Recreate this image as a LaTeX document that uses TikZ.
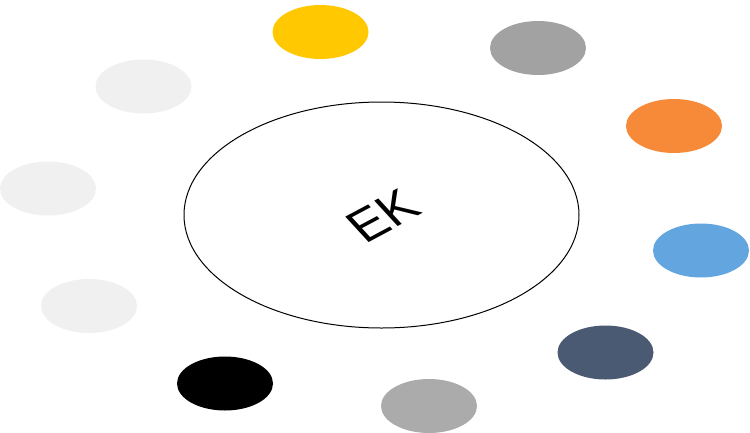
\documentclass[tikz,border=0pt]{standalone}
\usepackage{fontspec}
\setmainfont{Liberation Sans}
\usetikzlibrary{shapes.geometric}
\definecolor{sunyellow}{HTML}{FFC800}
\definecolor{midgray}{HTML}{A2A2A2}
\definecolor{softorange}{HTML}{F68A38}
\definecolor{skyblue}{HTML}{62A5DF}
\definecolor{slateblue}{HTML}{4A5A72}
\definecolor{stonegray}{HTML}{ABABAB}
\definecolor{palegray}{HTML}{F0F0F0}

\begin{document}
\begin{tikzpicture}[x=1pt, y=-1pt,
    petal/.style={ellipse, minimum width=96pt, minimum height=54pt, inner sep=0pt},
    hub/.style={ellipse, draw=black, line width=1pt, minimum width=395pt, minimum height=226pt, inner sep=0pt}]

  \useasboundingbox (0,0) rectangle (750,432);

  % Centre
  \node[hub] (hub) at (381.5, 215) {};
  \node[font=\fontsize{50}{56}\selectfont, cm={0.88,0.47,-0.68,0.74,(0,0)}] (label) at (383, 216) {EK};

  % Ring, clockwise from the top
  \node[petal, fill=sunyellow] (p1) at (320.5, 32) {};
  \node[petal, fill=midgray] (p2) at (538, 48) {};
  \node[petal, fill=softorange] (p3) at (674, 126) {};
  \node[petal, fill=skyblue] (p4) at (701, 250.5) {};
  \node[petal, fill=slateblue] (p5) at (605.5, 352.5) {};
  \node[petal, fill=stonegray] (p6) at (429, 406) {};
  \node[petal, fill=black] (p7) at (225, 383.5) {};
  \node[petal, fill=palegray] (p8) at (89, 306) {};
  \node[petal, fill=palegray] (p9) at (48, 188.5) {};
  \node[petal, fill=palegray] (p10) at (143.5, 86.5) {};
\end{tikzpicture}
\end{document}
